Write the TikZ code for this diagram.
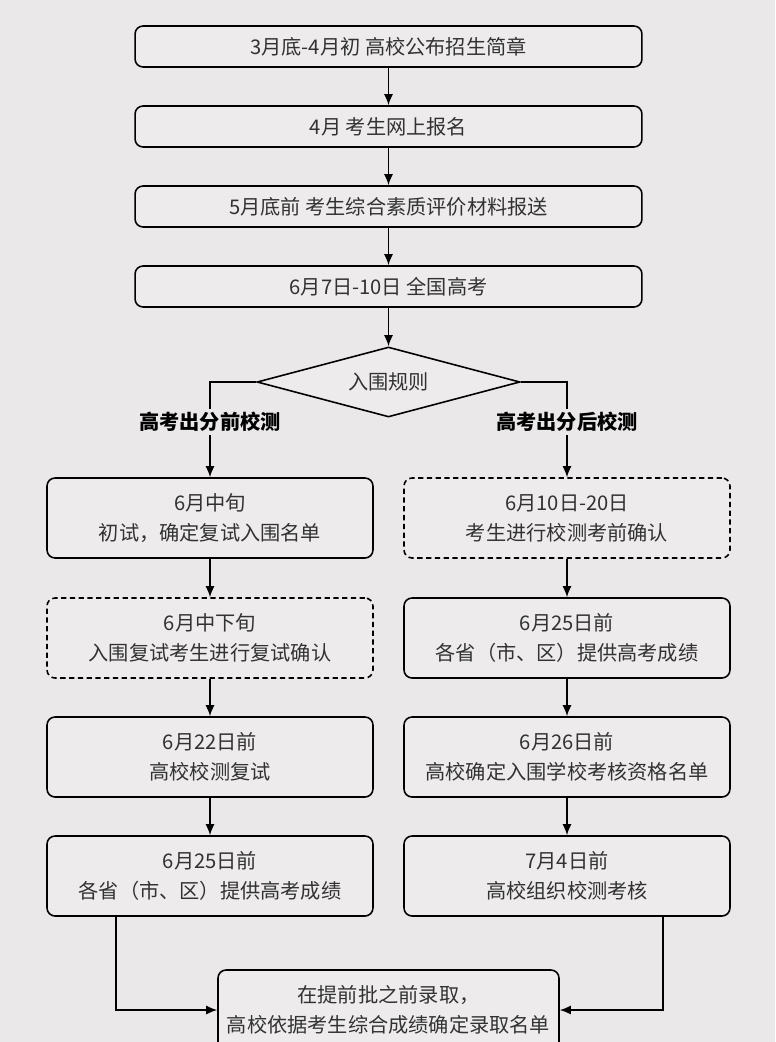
\documentclass[tikz,border=0pt]{standalone}
\usepackage{fontspec}
\setmainfont{Noto Sans CJK SC}
\usepackage{tikz}
\usetikzlibrary{shapes.geometric,arrows.meta}
\definecolor{bggray}{RGB}{234,232,232}
\definecolor{boxgray}{RGB}{237,235,235}
\definecolor{textgray}{RGB}{50,50,50}
\tikzstyle{block} = [draw, rectangle, rounded corners=0.16cm, fill=boxgray, text=textgray, line width=0.9pt, align=center, font=\fontsize{11.5}{17}\selectfont]
\tikzstyle{wideblock} = [block, minimum width=10.14cm, minimum height=0.82cm]
\tikzstyle{colblock} = [block, minimum width=6.52cm, minimum height=1.6cm]
\tikzstyle{checkblock} = [colblock, dash pattern=on 3pt off 2pt]
\tikzstyle{rulebox} = [draw, diamond, aspect=3.7, fill=boxgray, text=textgray, line width=0.9pt, minimum width=5.26cm, minimum height=1.4cm, inner sep=0pt, font=\fontsize{11.5}{17}\selectfont]
\tikzstyle{branch} = [fill=bggray, inner sep=2pt, font=\fontsize{11.5}{17}\selectfont\bfseries]

\begin{document}
\begin{tikzpicture}[x=0.02cm, y=-0.02cm, >={Latex[length=2.2mm,width=1.8mm]}, line width=0.9pt]
	\fill[bggray] (0,0) rectangle (775,1042);
	\useasboundingbox (0,0) rectangle (775,1042);

	% main line
	\node (BROCHURE) [wideblock] at (388.5,46.5) {3月底-4月初 高校公布招生简章};
	\node (SIGNUP) [wideblock] at (388.5,126.5) {4月 考生网上报名};
	\node (PROFILE) [wideblock] at (388.5,206.5) {5月底前 考生综合素质评价材料报送};
	\node (GAOKAO) [wideblock] at (388.5,286.5) {6月7日-10日 全国高考};
	\node (RULE) [rulebox] at (388.5,382) {入围规则};

	% left branch
	\node (L_FIRST) [colblock] at (210,518) {6月中旬\\初试，确定复试入围名单};
	\node (L_CONFIRM) [checkblock] at (210,638) {6月中下旬\\入围复试考生进行复试确认};
	\node (L_SECOND) [colblock] at (210,757) {6月22日前\\高校校测复试};
	\node (L_SCORE) [colblock] at (210,876) {6月25日前\\各省（市、区）提供高考成绩};

	% right branch
	\node (R_CONFIRM) [checkblock] at (567,518) {6月10日-20日\\考生进行校测考前确认};
	\node (R_SCORE) [colblock] at (567,638) {6月25日前\\各省（市、区）提供高考成绩};
	\node (R_LIST) [colblock] at (567,757) {6月26日前\\高校确定入围学校考核资格名单};
	\node (R_TEST) [colblock] at (567,876) {7月4日前\\高校组织校测考核};

	\node (ADMIT) [block, minimum width=6.82cm, minimum height=1.6cm] at (388.5,1010) {在提前批之前录取，\\高校依据考生综合成绩确定录取名单};

	\draw[->](BROCHURE)--(SIGNUP);
	\draw[->](SIGNUP)--(PROFILE);
	\draw[->](PROFILE)--(GAOKAO);
	\draw[->](GAOKAO)--(RULE);
	\draw[->](RULE.west)-|(L_FIRST.north);
	\draw[->](RULE.east)-|(R_CONFIRM.north);

	\draw[->](L_FIRST)--(L_CONFIRM);
	\draw[->](L_CONFIRM)--(L_SECOND);
	\draw[->](L_SECOND)--(L_SCORE);
	\draw[->](R_CONFIRM)--(R_SCORE);
	\draw[->](R_SCORE)--(R_LIST);
	\draw[->](R_LIST)--(R_TEST);

	\draw[->]([xshift=1.4cm]L_SCORE.south west)|-(ADMIT.west);
	\draw[->]([xshift=-1.36cm]R_TEST.south east)|-(ADMIT.east);

	\node (BEFORE) [branch] at (210,422) {高考出分前校测};
	\node (AFTER) [branch] at (567,422) {高考出分后校测};
\end{tikzpicture}
\end{document}
